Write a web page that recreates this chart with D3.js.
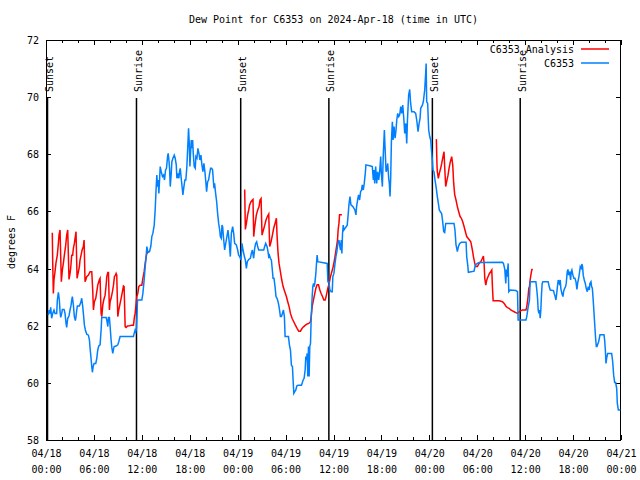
<!DOCTYPE html>
<html>
<head>
<meta charset="utf-8">
<script src="https://cdn.jsdelivr.net/npm/d3@7"></script>
<style>
  body { margin: 0; background: #fff; }
  svg { display: block; }
  text { font-family: "DejaVu Sans Mono", "Liberation Mono", monospace; font-size: 10px; fill: #000; }
</style>
</head>
<body>
<script>
// ---------- data (hours since 2024-04-18 00:00 UTC, degrees F) ----------
const titleText = "Dew Point for C6353 on 2024-Apr-18 (time in UTC)";
const yLabelText = "degrees F";
const seriesNames = ["C6353 Analysis", "C6353"];
const seriesColors = ["#ff0000", "#0080ff"];
const startUTC = Date.UTC(2024, 3, 18, 0, 0);
const endUTC = Date.UTC(2024, 3, 21, 0, 0);
const xMajorTickHours = [0, 6, 12, 18, 24, 30, 36, 42, 48, 54, 60, 66, 72];
const xMinorTickHours = d3.range(0, 73, 2);
const yTicks = [58, 60, 62, 64, 66, 68, 70, 72];
const sunEventHours = [0.19, 11.33, 24.38, 35.42, 48.38, 59.38];
const sunEventNames = ["Sunset", "Sunrise", "Sunset", "Sunrise", "Sunset", "Sunrise"];

const obsC6353 = [
[0.29,62.37],[0.38,62.55],[0.50,62.43],[0.59,62.64],[0.71,62.26],[0.84,62.43],[1.0,62.55],[1.13,62.43],[1.34,62.43],[1.42,62.9],[1.55,63.17],[1.67,62.9],[1.76,62.49],[1.84,62.29],[1.97,62.43],[2.05,62.57],[2.26,62.57],[2.38,62.43],[2.51,62.08],[2.59,61.94],[2.72,62.26],[2.88,62.34],[3.01,62.55],[3.14,62.72],[3.22,62.9],[3.30,63.02],[3.43,62.72],[3.55,62.32],[3.68,62.18],[3.76,62.32],[3.85,62.55],[3.93,62.69],[4.18,62.69],[4.35,62.81],[4.47,62.96],[4.60,62.67],[4.68,62.43],[4.81,62.02],[4.93,61.85],[5.10,61.7],[5.31,61.67],[5.44,61.5],[5.52,61.21],[5.64,60.86],[5.73,60.57],[5.81,60.37],[5.90,60.57],[6.02,60.68],[6.23,60.68],[6.36,60.86],[6.48,61.15],[6.61,61.29],[6.77,61.33],[6.90,61.85],[6.98,62.29],[7.19,62.29],[7.53,62.29],[7.61,62.2],[7.74,61.97],[7.82,62.29],[7.94,62.29],[8.03,61.97],[8.15,61.5],[8.24,61.24],[8.36,61.03],[8.45,61.17],[8.53,61.27],[8.78,61.29],[8.99,61.33],[9.11,61.44],[9.28,61.62],[10.95,61.62],[11.04,61.73],[11.16,61.85],[11.25,61.79],[11.33,61.91],[11.46,62.9],[12.0,62.9],[12.13,63.13],[12.29,63.6],[12.42,64.07],[12.54,64.42],[12.63,64.77],[12.75,64.59],[12.96,64.59],[13.13,64.79],[13.25,65.12],
[13.38,65.23],[13.55,65.52],[13.67,66.05],[13.8,66.87],[13.88,67.27],[13.97,66.87],[14.05,67.1],[14.13,66.63],[14.22,67.1],[14.3,67.57],[14.43,67.39],[14.59,67.22],[14.72,67.27],[14.84,67.1],[14.97,67.45],[15.09,67.51],[15.22,67.92],[15.3,68.03],[15.39,67.8],[15.47,67.51],[15.56,66.87],[15.68,67.33],[15.76,67.74],[15.89,67.86],[16.06,67.97],[16.18,67.86],[16.31,67.63],[16.39,67.16],[16.52,67.33],[16.64,67.16],[16.72,67.39],[16.81,67.51],[16.93,67.16],[17.06,66.81],[17.14,66.58],[17.27,66.87],[17.39,67.1],[17.51,67.1],[17.64,67.57],[17.77,68.38],[17.85,68.91],[17.94,68.38],[18.02,67.57],[18.1,68.03],[18.19,68.5],[18.27,68.21],[18.36,68.5],[18.44,68.03],[18.56,67.57],[18.69,67.51],[18.77,67.92],[18.9,67.86],[19.02,68.21],[19.15,68.03],[19.27,67.8],[19.4,67.97],[19.52,67.63],[19.65,67.39],[19.77,67.68],[19.9,67.39],[20.03,66.98],[20.11,66.69],[20.24,67.04],[20.36,67.1],[20.49,67.33],[20.61,67.51],[20.74,67.51],[20.86,67.45],[20.95,67.1],[21.03,66.81],[21.11,66.98],[21.24,66.63],[21.37,66.34],[21.49,65.93],[21.62,65.58],[21.75,65.35],[21.83,65.12],[21.95,65.06],[22.04,65.52],[22.12,65.47],[22.2,65.17],
[22.29,64.9],[22.37,64.65],[22.58,65.0],[22.79,65.35],[22.95,64.9],[23.08,64.42],[23.21,65.23],[23.37,65.47],[23.5,65.23],[23.62,64.88],[23.83,64.83],[24.0,64.65],[24.12,64.47],[24.25,64.42],[24.42,64.3],[24.54,64.88],[24.67,64.65],[24.84,64.42],[24.96,64.3],[25.09,64.01],[25.21,64.24],[25.38,64.32],[25.59,64.36],[25.71,64.53],[25.84,64.65],[26.0,64.36],[26.13,64.71],[26.25,64.88],[26.38,64.94],[26.5,64.77],[26.63,64.65],[27.26,64.65],[27.38,64.77],[27.51,64.88],[27.68,64.77],[27.8,64.59],[27.88,64.42],[27.97,64.47],[28.09,64.36],[28.22,64.3],[28.34,63.95],[28.43,63.66],[28.55,63.66],[28.68,63.37],[28.8,63.02],[28.93,62.96],[29.06,62.84],[29.18,62.67],[29.27,62.49],[29.35,62.32],[29.48,62.32],[29.6,62.43],[29.73,62.55],[29.85,62.32],[29.94,61.62],[30.36,61.62],[30.48,61.33],[30.61,61.15],[30.73,60.62],[30.86,60.57],[30.94,60.1],[31.03,59.63],[31.15,59.69],[31.28,59.75],[31.4,59.89],[31.57,59.92],[31.99,59.92],[32.2,60.1],[32.32,60.16],[32.45,60.45],[32.53,60.92],[32.62,60.8],[32.7,61.03],[32.78,60.22],[32.87,61.27],[32.95,60.22],[33.03,61.27],[33.12,61.38],[33.2,62.2],[33.33,63.02],[33.41,63.37],[33.5,63.48],[33.58,63.37],[33.66,63.48],[33.79,63.83],[33.87,64.18],[33.95,64.47],[34.04,64.24],[35.21,64.18],[35.3,63.54],[35.42,63.54],[35.55,63.25],[35.71,63.19],[35.84,63.19],[35.92,63.72],[36.05,63.83],[36.17,64.13],[36.3,64.42],[36.42,64.59],[36.55,64.88],[36.68,65.0],[36.8,64.77],[36.88,64.65],[36.97,65.0],[37.05,64.53],[37.13,65.23],[37.22,65.52],[37.3,65.35],[37.72,65.52],[37.85,65.93],[37.93,66.23],[38.06,66.52],[38.18,66.23],[38.43,66.17],[38.56,66.11],[38.68,66.05],[38.81,65.88],[38.89,66.17],[39.02,66.4],[39.14,66.58],[39.27,66.4],[39.39,66.69],[39.52,66.75],[39.6,66.93],[39.73,66.75],[39.85,66.98],[39.98,67.33],[40.06,67.63],[40.65,67.59],[40.86,67.57],[40.99,67.1],[41.07,67.45],[41.16,66.98],[41.28,67.57],[41.41,66.98],[41.53,67.39],[41.66,67.1],[41.78,67.39],[41.91,67.92],[41.99,67.33],[42.12,66.87],[42.24,68.03],[42.37,68.85],[42.45,68.27],[42.58,67.39],[42.66,67.45],[42.79,67.68],[42.91,67.16],[42.99,66.98],[43.08,66.52],[43.16,67.16],[43.25,68.44],[43.37,69.14],[43.46,68.5],[43.58,68.97],[43.71,68.56],[43.83,68.85],[43.92,69.2],[44.04,69.43],[44.17,69.32],[44.29,69.38],[44.42,69.67],[44.54,69.43],[44.67,69.72],[44.8,69.26],[44.92,68.73],[45.05,69.08],[45.17,68.38],[45.26,69.2],[45.41,70.07],[45.54,70.27],[45.66,69.78],[45.79,69.49],[46.08,69.49],[46.29,69.43],[46.42,69.2],[46.59,68.79],[46.72,69.08],[46.84,69.26],[46.92,69.61],[47.13,69.72],[47.25,69.84],[47.42,70.25],[47.54,70.83],[47.6,71.18],[47.67,69.84],[47.79,69.78],[47.92,68.85],[48.05,68.62],[48.17,68.5],[48.3,68.03],[48.38,67.8],[48.46,67.45],[48.58,67.39],[48.71,67.1],[48.84,66.87],[49.0,66.52],[49.13,66.28],[49.25,66.05],[49.38,65.99],[49.54,65.93],[49.67,65.64],[49.8,65.29],[49.92,65.26],[50.05,65.58],[51.09,65.58],[51.21,65.35],[51.34,64.83],[51.43,64.71],[51.51,64.59],[51.64,64.77],[51.8,64.88],[52.01,64.92],[52.6,64.92],[52.68,64.42],[52.81,64.12],[52.89,63.87],[53.6,63.91],[53.73,64.09],[53.85,64.15],[54.02,64.18],[54.23,64.21],[57.16,64.22],[57.28,64.18],[57.45,63.97],[57.57,63.48],[57.66,63.97],[57.74,63.72],[57.87,64.18],[57.95,63.19],[58.12,63.25],[58.83,63.23],[59.04,63.19],[59.08,62.67],[59.12,62.2],[60.1,62.2],[60.2,62.32],[60.38,62.67],[60.54,62.9],[60.62,63.54],[61.34,63.54],[61.46,63.25],[61.55,62.96],[61.63,62.55],[61.71,62.43],[61.8,62.55],[61.88,62.26],[61.96,62.55],[62.05,63.13],[62.13,63.48],[62.22,63.54],[62.88,63.54],[63.01,63.37],[63.14,63.25],[63.55,63.23],[63.64,63.13],[63.76,63.02],[63.85,62.9],[63.93,63.07],[64.06,63.42],[64.14,63.6],[64.27,63.48],[64.39,63.6],[64.47,63.3],[64.6,63.13],[64.73,63.02],[64.81,63.19],[64.93,63.3],[65.06,63.37],[65.14,63.48],[65.27,63.89],[65.36,63.97],[65.44,63.77],[65.56,63.89],[65.69,63.6],[65.77,63.89],[65.85,63.95],[65.98,63.77],[66.1,63.66],[66.23,63.66],[66.36,63.54],[66.48,63.27],[66.57,63.48],[66.65,63.6],[66.73,63.72],[66.82,63.89],[66.9,64.07],[67.02,64.01],[67.11,64.16],[67.19,64.07],[67.27,63.77],[67.4,63.6],[67.53,63.48],[67.65,63.3],[67.78,63.19],[67.9,63.37],[68.03,63.25],[68.11,63.48],[68.24,63.54],[68.32,63.37],[68.41,63.31],[68.49,63.02],[68.57,62.67],[68.66,62.26],[68.74,61.91],[68.82,61.56],[68.91,61.27],[68.99,61.27],[69.12,61.38],[69.2,61.44],[69.37,61.68],[69.87,61.68],[69.95,61.5],[70.04,61.15],[70.12,60.68],[70.2,60.86],[70.33,61.03],[70.83,61.03],[70.96,60.74],[71.08,60.27],[71.21,60.01],[71.33,60.01],[71.46,59.81],[71.54,59.28],[71.67,59.05],[71.92,59.05]
];

const analysisRun1 = [
[0.79,65.25],[0.84,64.2],[0.92,63.13],[1.0,63.6],[1.13,63.89],[1.25,64.2],[1.42,64.48],[1.55,64.88],[1.63,65.17],[1.76,65.35],[1.92,63.54],[2.05,63.95],[2.17,64.18],[2.30,64.47],[2.47,64.82],[2.59,65.17],[2.72,65.35],[2.88,63.62],[3.01,63.83],[3.09,64.01],[3.22,64.47],[3.34,64.47],[3.43,64.71],[3.55,64.88],[3.64,65.06],[3.76,65.29],[3.89,63.66],[4.06,63.89],[4.18,64.07],[4.26,64.3],[4.39,64.47],[4.52,64.65],[4.68,64.77],[4.77,65.0],[4.89,63.54],[4.98,63.6],[5.1,63.72],[5.31,63.77],[5.52,63.89],[5.73,63.89],[5.85,63.25],[5.94,62.55],[6.06,62.84],[6.23,62.96],[6.36,63.19],[6.48,63.42],[6.69,63.62],[6.77,63.66],[6.9,62.43],[6.98,62.32],[7.11,62.72],[7.23,62.9],[7.4,63.07],[7.53,63.42],[7.61,63.72],[7.74,63.86],[7.82,63.86],[7.94,62.55],[8.03,62.84],[8.15,62.96],[8.32,63.19],[8.45,63.42],[8.57,63.72],[8.7,63.77],[8.78,63.83],[8.86,63.77],[8.99,62.32],[9.11,62.55],[9.28,62.78],[9.41,62.96],[9.57,63.19],[9.7,63.39],[9.78,63.37],[9.91,61.97],[10.03,61.94],[10.2,61.99],[10.45,62.0],[10.75,62.02],[10.95,62.02],[11.08,62.32],[11.16,62.43],[11.37,63.02],[11.5,63.13],[11.62,63.37],[11.79,63.42],[12.0,63.42],[12.13,63.66],[12.29,63.89],[12.42,64.18],[12.54,64.42],[12.63,64.53],[12.84,64.59]
];
const analysisRun2 = [
[24.88,66.77],[24.96,65.37],[25.09,65.58],[25.25,65.88],[25.38,66.05],[25.5,66.23],[25.67,66.34],[25.84,66.4],[25.92,66.42],[26.01,65.12],[26.09,65.35],[26.22,65.64],[26.34,65.88],[26.51,66.05],[26.68,66.17],[26.8,66.4],[26.93,66.45],[27.05,65.17],[27.22,65.35],[27.39,65.52],[27.55,65.7],[27.72,65.82],[27.89,65.91],[28.01,64.77],[28.18,64.94],[28.35,65.17],[28.51,65.41],[28.68,65.58],[28.85,65.76],[28.93,65.17],[29.06,64.53],[29.18,64.18],[29.35,63.89],[29.52,63.6],[29.69,63.37],[29.9,63.19],[30.1,63.02],[30.27,62.84],[30.44,62.67],[30.61,62.43],[30.81,62.26],[31.02,62.14],[31.23,62.02],[31.44,61.91],[31.65,61.81],[31.86,61.81],[32.07,61.91],[32.28,61.97],[32.49,62.02],[32.7,62.06],[32.91,62.08],[33.12,62.14],[33.2,62.32],[33.33,62.67],[33.45,62.84],[33.62,63.08],[33.79,63.31],[33.95,63.43],[34.12,63.43],[34.29,63.25],[34.45,63.13],[34.62,63.02],[34.79,62.9],[34.96,62.9],[35.12,63.08],[35.29,63.31],[35.46,63.48],[35.62,63.72],[35.79,63.89],[35.96,64.07],[36.12,64.3],[36.25,64.53],[36.38,64.77],[36.5,65.0],[36.58,65.35],[36.68,65.58],[36.76,65.88],[37.05,65.88]
];
const analysisRun3 = [
[48.88,68.53],[48.96,67.6],[49.0,67.39],[49.13,67.16],[49.25,67.33],[49.42,67.51],[49.55,67.68],[49.71,67.92],[49.84,68.09],[49.92,67.57],[50.05,66.87],[50.17,67.04],[50.34,67.27],[50.47,67.51],[50.63,67.74],[50.8,67.92],[50.93,67.63],[51.05,66.98],[51.18,66.58],[51.34,66.4],[51.51,66.17],[51.68,65.99],[51.85,65.82],[52.01,65.76],[52.18,65.64],[52.35,65.47],[52.52,65.29],[52.68,65.12],[52.85,65.06],[53.02,65.0],[53.19,64.94],[53.39,64.65],[53.52,64.42],[53.73,64.13],[53.85,64.07],[54.02,64.07],[54.23,64.18],[54.44,64.24],[54.65,64.36],[54.77,64.44],[54.86,64.18],[54.94,63.66],[55.07,63.42],[55.19,63.6],[55.36,63.72],[55.53,63.83],[55.69,63.89],[55.82,63.95],[55.9,63.37],[55.99,62.87],[56.74,62.87],[57.16,62.84],[57.37,62.78],[57.57,62.69],[57.78,62.63],[57.99,62.61],[58.2,62.55],[58.41,62.52],[58.62,62.49],[58.83,62.46],[59.04,62.43],[59.25,62.49],[59.46,62.53],[59.67,62.55],[60.1,62.55],[60.2,62.67],[60.29,62.84],[60.38,63.07],[60.46,63.31],[60.54,63.37],[60.62,63.6],[60.75,63.83],[60.84,63.97],[60.96,63.97]
];

// ---------- layout ----------
const W = 640, H = 480;
const L = 46, R = 621, T = 40, B = 440;
const toDate = h => new Date(startUTC + h * 3600e3);

const svg = d3.select("body").append("svg").attr("width", W).attr("height", H);
svg.append("rect").attr("width", W).attr("height", H).attr("fill", "#fff");

const x = d3.scaleUtc().domain([new Date(startUTC), new Date(endUTC)]).range([L, R]);
const y = d3.scaleLinear().domain([58, 72]).range([B, T]);

// title
svg.append("text").attr("x", (L + R) / 2).attr("y", 23).attr("text-anchor", "middle").text(titleText);
// y label
svg.append("text").attr("transform", `translate(15,${(T + B) / 2 + 2}) rotate(-90)`).attr("text-anchor", "middle").text(yLabelText);

const axG = svg.append("g").attr("shape-rendering", "crispEdges");
const majorDates = xMajorTickHours.map(toDate);
const minorDates = xMinorTickHours.filter(h => h % 6 !== 0).map(toDate);

// bottom axis with labels
const gx = axG.append("g").attr("transform", `translate(0,${B})`)
  .call(d3.axisBottom(x).tickValues(majorDates).tickSize(-5).tickFormat(d3.utcFormat("%m/%d")));
gx.select(".domain").remove();
gx.selectAll(".tick text").attr("y", 17).attr("dy", null).attr("font-size", null).attr("font-family", null)
  .each(function (d) {
    d3.select(this).append("tspan").attr("x", 0).attr("y", 33).text(d3.utcFormat("%H:%M")(d));
  });
const gxm = axG.append("g").attr("transform", `translate(0,${B})`)
  .call(d3.axisBottom(x).tickValues(minorDates).tickSize(-3).tickFormat(""));
gxm.select(".domain").remove();
// top mirrored ticks
const gt = axG.append("g").attr("transform", `translate(0,${T})`)
  .call(d3.axisTop(x).tickValues(majorDates).tickSize(-5).tickFormat(""));
gt.select(".domain").remove();
const gtm = axG.append("g").attr("transform", `translate(0,${T})`)
  .call(d3.axisTop(x).tickValues(minorDates).tickSize(-3).tickFormat(""));
gtm.select(".domain").remove();
// left axis
const gy = axG.append("g").attr("transform", `translate(${L},0)`)
  .call(d3.axisLeft(y).tickValues(yTicks).tickSize(-5).tickPadding(7).tickFormat(d3.format("d")));
gy.select(".domain").remove();
gy.selectAll(".tick text").attr("font-size", null).attr("font-family", null).attr("dy", "0.35em");
// right mirrored ticks
const gr = axG.append("g").attr("transform", `translate(${R},0)`)
  .call(d3.axisRight(y).tickValues(yTicks).tickSize(-5).tickFormat(""));
gr.select(".domain").remove();
axG.selectAll(".tick line").attr("stroke", "#000");
// border
axG.append("rect").attr("x", L + 0.5).attr("y", T + 0.5).attr("width", R - L - 1).attr("height", B - T)
  .attr("fill", "none").attr("stroke", "#000").attr("stroke-width", 1);

// sunrise / sunset markers
const sun = svg.append("g");
sunEventHours.forEach((h, i) => {
  const px = x(toDate(h));
  sun.append("line").attr("x1", px).attr("x2", px).attr("y1", 98).attr("y2", B)
    .attr("stroke", "#000").attr("stroke-width", 1.5);
  sun.append("text").attr("transform", `translate(${px + 5.5},92) rotate(-90)`)
    .attr("text-anchor", "start").text(sunEventNames[i]);
});

// lines
const line = d3.line().x(d => x(toDate(d[0]))).y(d => y(d[1]));
const plot = svg.append("g");
[analysisRun1, analysisRun2, analysisRun3].forEach(run => {
  plot.append("path").datum(run).attr("d", line).attr("fill", "none")
    .attr("stroke", seriesColors[0]).attr("stroke-width", 1.5).attr("stroke-linejoin", "miter");
});
plot.append("path").datum(obsC6353).attr("d", line).attr("fill", "none")
  .attr("stroke", seriesColors[1]).attr("stroke-width", 1.5).attr("stroke-linejoin", "miter");

// legend
const leg = svg.append("g");
seriesNames.forEach((name, i) => {
  const ly = 49 + i * 14;
  leg.append("text").attr("x", 574).attr("y", ly + 3.5).attr("text-anchor", "end").text(name);
  leg.append("line").attr("x1", 581).attr("x2", 609).attr("y1", ly).attr("y2", ly)
    .attr("stroke", seriesColors[i]).attr("stroke-width", 1.5);
});
</script>
</body>
</html>
